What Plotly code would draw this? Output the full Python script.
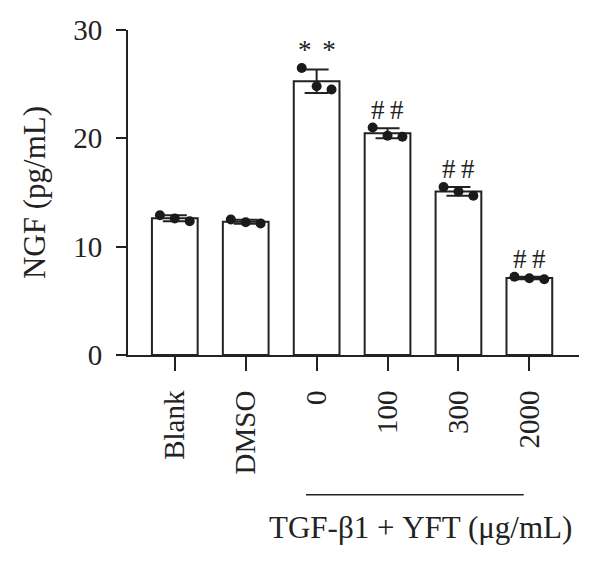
import plotly.graph_objects as go
import numpy as np

categories = ["Blank", "DMSO", "0", "100", "300", "2000"]
rep1 = [12.9, 12.5, 26.5, 21.0, 15.5, 7.23]
rep2 = [12.6, 12.25, 24.8, 20.25, 15.1, 7.08]
rep3 = [12.35, 12.15, 24.5, 20.15, 14.7, 7.0]
sig_labels = ["", "", "*\u2009\u2009*", "#\u2009#", "#\u2009#", "#\u2009#"]

reps = np.array([rep1, rep2, rep3])
means = reps.mean(axis=0)
sds = reps.std(axis=0, ddof=1)
xpos = np.arange(len(categories))

FONT = "Liberation Serif"
fig = go.Figure()
fig.add_trace(go.Bar(
    x=xpos, y=means, width=0.645,
    marker=dict(color="white", line=dict(color="#222", width=2)),
    error_y=dict(type="data", array=sds, color="#222", thickness=2, width=12),
    showlegend=False,
))
offsets = [-0.21, 0.0, 0.21]
for off, r in zip(offsets, reps):
    fig.add_trace(go.Scatter(
        x=xpos + off, y=r, mode="markers",
        marker=dict(color="#1a1a1a", size=10), showlegend=False,
    ))

for i, lab in enumerate(sig_labels):
    if lab:
        top = max(reps[:, i].max(), means[i] + sds[i])
        fig.add_annotation(x=xpos[i], y=top, text=lab, showarrow=False,
                           yanchor="bottom", yshift=1,
                           font=dict(family=FONT, size=27, color="#222"))

fig.add_shape(type="line", xref="x", yref="paper", x0=1.85, x1=4.92,
              y0=-0.43, y1=-0.43, line=dict(color="#222", width=1.5))
fig.add_annotation(xref="x", yref="paper", x=3.46, y=-0.53,
                   text="TGF-β1 + YFT (μg/mL)", showarrow=False,
                   yanchor="middle", font=dict(family=FONT, size=31, color="#222"))

fig.update_layout(
    width=600, height=565,
    margin=dict(l=128, r=21, t=30, b=210),
    plot_bgcolor="white", paper_bgcolor="white",
    font=dict(family=FONT, size=29, color="#222"),
    bargap=0.3,
    xaxis=dict(
        range=[-0.66, 5.7], tickmode="array", tickvals=xpos, ticktext=categories,
        tickangle=-90, ticks="outside", ticklen=14, tickwidth=2, tickcolor="#222",
        showline=True, linewidth=2, linecolor="#222", showgrid=False, zeroline=False,
        ticklabelstandoff=8,
    ),
    yaxis=dict(
        range=[0, 30], tickvals=[0, 10, 20, 30], ticks="outside", ticklen=10,
        tickwidth=2, tickcolor="#222", showline=True, linewidth=2, linecolor="#222",
        showgrid=False, zeroline=False, ticklabelstandoff=8,
        title=dict(text="NGF (pg/mL)", standoff=18, font=dict(size=31)),
    ),
)
fig.write_html("out.html")
